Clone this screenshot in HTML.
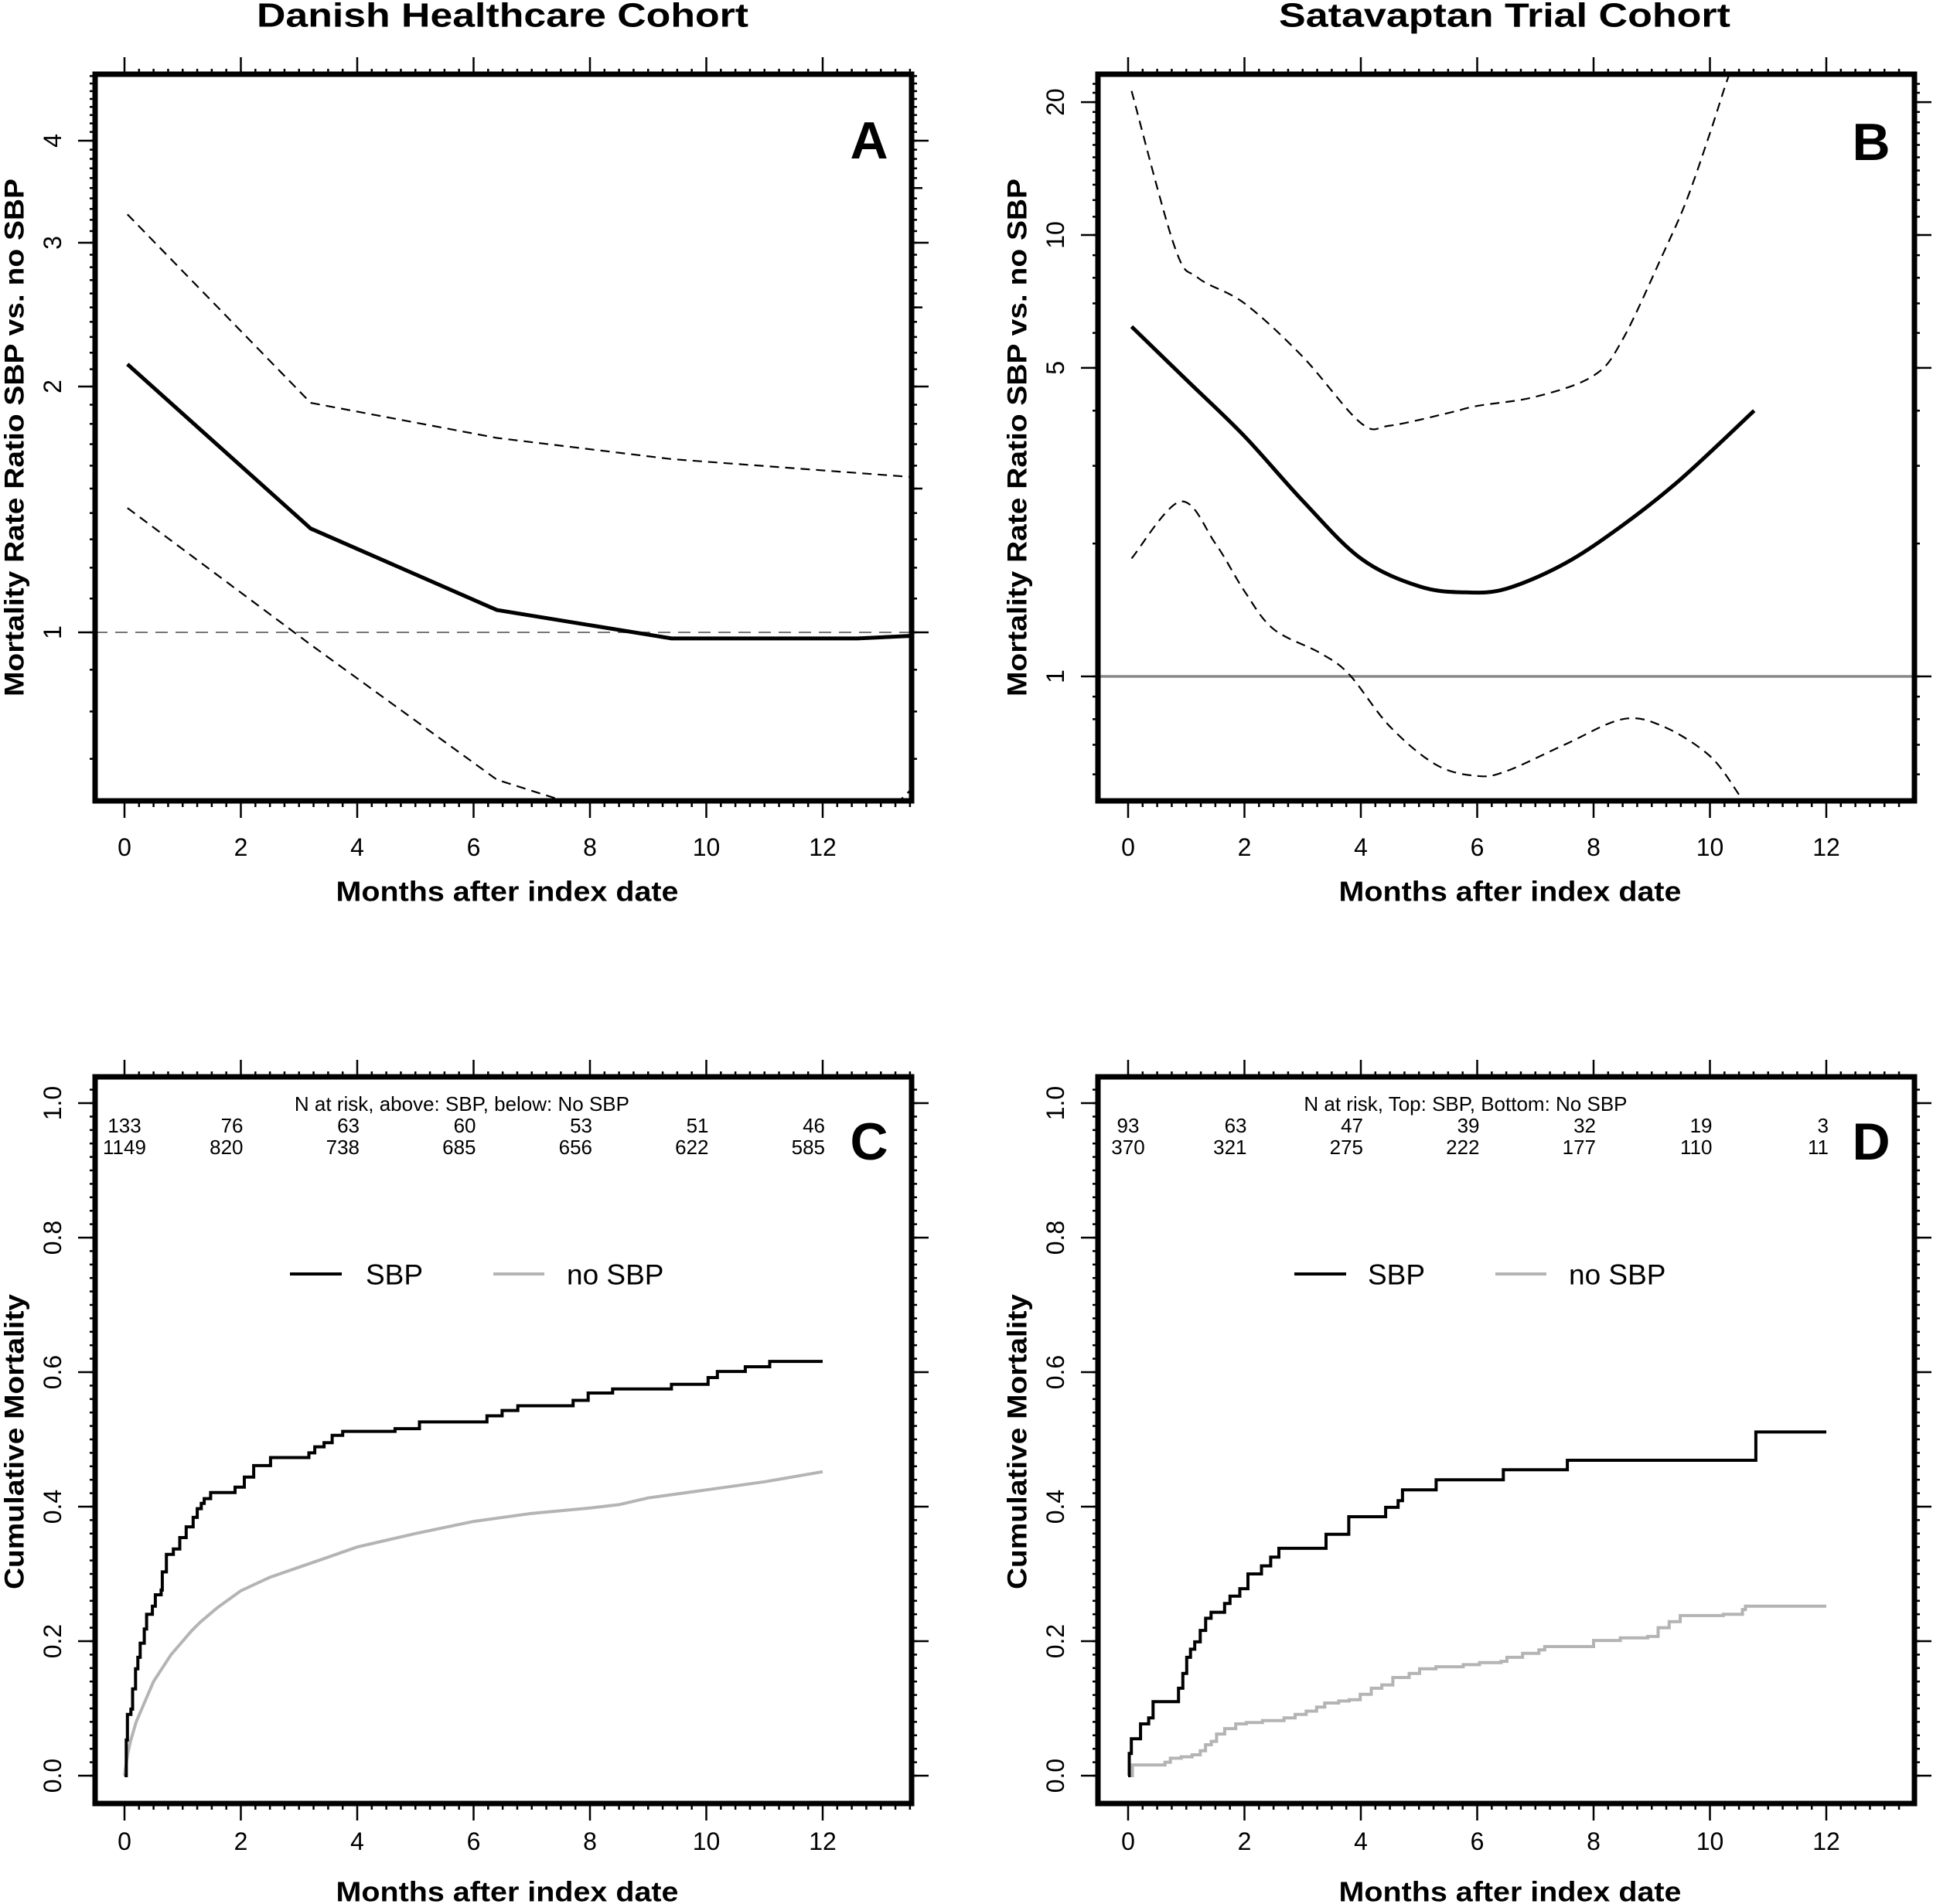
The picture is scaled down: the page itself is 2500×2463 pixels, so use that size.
<!DOCTYPE html>
<html><head><meta charset="utf-8"><style>
html,body{margin:0;padding:0;background:#fff;}
svg{display:block;font-family:"Liberation Sans",Arial,sans-serif;}
</style></head><body>
<svg id="fig" width="2500" height="2463" viewBox="0 0 2500 2463" xmlns="http://www.w3.org/2000/svg"></svg>
<script>
// ---------- DATA ----------
// Panel A (Danish, rate ratio, log scale)
const aMonths = [0.05, 3.2, 6.4, 9.4, 12.6, 13.5];
const aRatio = [2.13, 1.34, 1.065, 0.983, 0.983, 0.99];
const aUpperMonths = [0.05, 3.2, 6.4, 9.4, 13.5];
const aUpper = [3.25, 1.91, 1.73, 1.63, 1.55];
const aLowerMonths = [0.05, 3.2, 6.4, 7.6, 10, 13.2, 13.5];
const aLower = [1.42, 0.966, 0.66, 0.62, 0.58, 0.61, 0.64];
const aTickLabels = [1, 2, 3, 4];
// Panel B (Satavaptan, rate ratio, log scale)
const bMonths = [0.06, 1, 2, 3, 4, 5, 5.8, 6.5, 7.5, 8.5, 9.5, 10.76];
const bRatio = [6.2, 4.7, 3.5, 2.5, 1.85, 1.6, 1.55, 1.58, 1.8, 2.2, 2.8, 4.0];
const bUpperMonths = [0.06, 0.8, 1.2, 2, 3, 4, 4.5, 5.5, 6, 7, 8, 8.5, 9.2, 9.6, 10, 10.3, 10.5];
const bUpper = [21.2, 9.4, 8.0, 7.0, 5.3, 3.75, 3.7, 3.95, 4.1, 4.3, 4.8, 5.8, 9.1, 12, 17, 22.5, 26];
const bLowerMonths = [0.06, 0.9, 1.5, 2, 2.5, 3.3, 3.8, 4.5, 5.3, 6, 6.5, 7.5, 8.5, 9.2, 10, 10.5];
const bLower = [1.85, 2.49, 2.0, 1.56, 1.28, 1.13, 1.01, 0.77, 0.63, 0.595, 0.61, 0.7, 0.8, 0.77, 0.66, 0.54];
const bTickLabels = [1, 5, 10, 20];
// Panel C (Danish cumulative mortality, step)
const cSbpTimes = [0,0.03,0.05,0.11,0.14,0.19,0.23,0.27,0.34,0.38,0.48,0.53,0.63,0.65,0.72,0.84,0.95,1.06,1.18,1.25,1.32,1.37,1.48,1.90,2.06,2.22,2.51,3.17,3.27,3.43,3.57,3.75,4.65,5.07,6.23,6.49,6.76,7.71,7.97,8.39,9.40,10.03,10.19,10.67,11.09,12];
const cSbpCum = [0,0.053,0.091,0.099,0.129,0.159,0.176,0.197,0.218,0.240,0.252,0.269,0.276,0.303,0.329,0.337,0.354,0.370,0.384,0.397,0.405,0.412,0.421,0.429,0.444,0.461,0.473,0.480,0.489,0.495,0.506,0.512,0.516,0.526,0.535,0.543,0.550,0.558,0.569,0.575,0.582,0.592,0.601,0.608,0.616,0.616];
const cNoTimes = [0,0.05,0.1,0.2,0.3,0.4,0.5,0.65,0.8,1,1.15,1.3,1.6,2,2.5,3,3.5,4,4.5,5,6,7,8,8.5,9,10,11,12];
const cNoCum = [0,0.03,0.05,0.08,0.1,0.12,0.14,0.16,0.18,0.2,0.215,0.228,0.25,0.275,0.295,0.31,0.325,0.34,0.35,0.36,0.378,0.39,0.398,0.403,0.413,0.425,0.437,0.452];
const cRiskTop = ["133","76","63","60","53","51","46"];
const cRiskBottom = ["1149","820","738","685","656","622","585"];
// Panel D (Satavaptan cumulative mortality, step)
const dSbpTimes = [0,0.02,0.056,0.214,0.354,0.429,0.867,0.941,1.007,1.072,1.146,1.240,1.333,1.426,1.659,1.752,1.920,2.060,2.293,2.451,2.591,3.402,3.793,4.427,4.641,4.716,5.294,6.449,7.549,10.79,12];
const dSbpCum = [0,0.033,0.055,0.077,0.086,0.110,0.130,0.152,0.176,0.188,0.199,0.216,0.234,0.243,0.256,0.267,0.278,0.300,0.312,0.325,0.338,0.359,0.385,0.399,0.409,0.425,0.440,0.455,0.469,0.511,0.511];
const dNoTimes = [0,0.075,0.634,0.727,0.913,1.10,1.24,1.33,1.43,1.52,1.66,1.85,2.03,2.31,2.68,2.87,3.06,3.24,3.38,3.62,3.80,3.99,4.18,4.36,4.55,4.83,5.01,5.29,5.76,6.04,6.41,6.51,6.78,7.06,7.16,8.00,8.46,8.93,9.11,9.30,9.49,10.23,10.56,10.61,12];
const dNoCum = [0,0.016,0.020,0.026,0.028,0.031,0.037,0.046,0.051,0.062,0.070,0.077,0.079,0.082,0.086,0.091,0.096,0.102,0.108,0.111,0.113,0.121,0.130,0.135,0.146,0.152,0.159,0.162,0.165,0.168,0.170,0.176,0.182,0.187,0.192,0.201,0.205,0.207,0.220,0.229,0.238,0.240,0.247,0.252,0.252];
const dRiskTop = ["93","63","47","39","32","19","3"];
const dRiskBottom = ["370","321","275","222","177","110","11"];
const monthTicks = [0, 2, 4, 6, 8, 10, 12];
const cumTicks = [0, 0.2, 0.4, 0.6, 0.8, 1.0];

// ---------- HELPERS ----------
const NS = "http://www.w3.org/2000/svg";
const svg = document.getElementById('fig');
function mk(tag, attrs, parent) {
  const e = document.createElementNS(NS, tag);
  for (const k in attrs) e.setAttribute(k, attrs[k]);
  (parent || svg).appendChild(e);
  return e;
}
function txt(s, x, y, size, weight, anchor, parent, rot, tl) {
  const t = mk('text', {x: x, y: y, 'font-size': size, 'font-weight': weight || 'normal', 'text-anchor': anchor || 'middle', 'dominant-baseline': 'central', fill: '#000'}, parent);
  if (rot) t.setAttribute('transform', 'rotate(' + rot + ' ' + x + ' ' + y + ')');
  if (tl) { t.setAttribute('textLength', tl); t.setAttribute('lengthAdjust', 'spacingAndGlyphs'); }
  t.textContent = s;
  return t;
}
function line(x1, y1, x2, y2, w, parent, color) {
  return mk('line', {x1: x1, y1: y1, x2: x2, y2: y2, stroke: color || '#000', 'stroke-width': w}, parent);
}
function poly(xs, ys, fx, fy, attrs, parent) {
  const pts = xs.map((v, i) => fx(v).toFixed(1) + ',' + fy(ys[i]).toFixed(1)).join(' ');
  return mk('polyline', Object.assign({points: pts, fill: 'none'}, attrs), parent);
}
function smooth(xs, ys, fx, fy, attrs, parent) {
  const P = xs.map((v, i) => [fx(v), fy(ys[i])]);
  let d = 'M' + P[0][0].toFixed(1) + ',' + P[0][1].toFixed(1);
  for (let i = 0; i < P.length - 1; i++) {
    const p0 = P[Math.max(0, i - 1)], p1 = P[i], p2 = P[i + 1], p3 = P[Math.min(P.length - 1, i + 2)];
    const c1x = p1[0] + (p2[0] - p0[0]) / 6, c1y = p1[1] + (p2[1] - p0[1]) / 6;
    const c2x = p2[0] - (p3[0] - p1[0]) / 6, c2y = p2[1] - (p3[1] - p1[1]) / 6;
    d += ' C' + c1x.toFixed(1) + ',' + c1y.toFixed(1) + ' ' + c2x.toFixed(1) + ',' + c2y.toFixed(1) + ' ' + p2[0].toFixed(1) + ',' + p2[1].toFixed(1);
  }
  return mk('path', Object.assign({d: d, fill: 'none'}, attrs), parent);
}
function steps(xs, ys, fx, fy, attrs, parent) {
  let d = 'M' + fx(xs[0]).toFixed(1) + ',' + fy(ys[0]).toFixed(1);
  for (let i = 1; i < xs.length; i++) {
    d += ' H' + fx(xs[i]).toFixed(1) + ' V' + fy(ys[i]).toFixed(1);
  }
  return mk('path', Object.assign({d: d, fill: 'none'}, attrs), parent);
}

// ---------- PANEL FRAME ----------
function panel(cfg) {
  const g = mk('g', {});
  
  
  const L = cfg.left, R = cfg.left + 1056, T = cfg.top, B = cfg.top + 940;
  const fx = m => cfg.x0 + 75.25 * m;
  const cp = mk('clipPath', {id: 'clip-' + cfg.name}, g);
  mk('rect', {x: L, y: T, width: R - L, height: B - T}, cp);
  const plot = mk('g', {'clip-path': 'url(#clip-' + cfg.name + ')'}, g);
  
  
  const xax = mk('g', {}, g);
  
  
  for (let q = 0; q <= 54; q++) {
    const m = q * 0.25; const X = fx(m);
    if (X > R - 2) break;
    const major = q % 8 === 0 && m <= 12;
    line(X, B, X, B + (major ? 22 : 8), 2.5, xax);
    line(X, T, X, T - (major ? 22 : 7), 2.5, xax);
  }
  monthTicks.forEach(m => {
    const t = txt(String(m), fx(m), cfg.tickLabelY, 32, 'normal', 'middle', xax);
    
    
  });
  const xt = txt('Months after index date', (L + R) / 2 + 5, cfg.xTitleY, 36, 'bold', 'middle', g, 0, 443);
  
  
  const yax = mk('g', {}, g);
  
  
  cfg.minor.forEach(v => { const Y = cfg.fy(v); if (Y > T + 2 && Y < B - 2) { line(L, Y, L - 7, Y, 2.5, yax); line(R, Y, R + 7, Y, 2.5, yax); } });
  (cfg.mid || []).forEach(v => { const Y = cfg.fy(v); line(R, Y, R + 14, Y, 2.5, yax); });
  cfg.major.forEach(v => { const Y = cfg.fy(v); line(L, Y, L - 22, Y, 2.5, yax); line(R, Y, R + 22, Y, 2.5, yax); });
  cfg.labels.forEach(v => {
    const t = txt(cfg.fmt(v), L - 55, cfg.fy(v), 32, 'normal', 'middle', yax, -90);
    
    
  });
  const yx = cfg.yTitleX;
  const yt = txt(cfg.yTitle, yx, cfg.yTitleC, 35, 'bold', 'middle', g, -90, cfg.yTitleLen);
  
  
  const lt = txt(cfg.letter, cfg.letterX, cfg.letterY, 68, 'bold', 'middle', g);
  
  
  const box = mk('rect', {x: L, y: T, width: R - L, height: B - T, fill: 'none', stroke: '#000', 'stroke-width': 7});
  
  
  g.appendChild(box);
  return {g: g, plot: plot, fx: fx, fy: cfg.fy, L: L, R: R, T: T, B: B};
}

const t1 = txt('Danish Healthcare Cohort', 650, 20, 44, 'bold', 'middle', svg, 0, 636);


const t2 = txt('Satavaptan Trial Cohort', 1946, 20, 44, 'bold', 'middle', svg, 0, 584);



// ---------- PANEL A ----------
const fyA = v => 818 - 318 * Math.log2(v);
const aMinor = []; for (let v = 0.6; v <= 4.85; v += 0.1) aMinor.push(+v.toFixed(2));
const pA = panel({name: 'panel-a', left: 123, top: 96, x0: 161, fy: fyA, minor: aMinor, mid: [1.5, 2.5, 3.5], major: aTickLabels, labels: aTickLabels, fmt: v => String(v),
  tickLabelY: 1096, xTitleY: 1153, yTitle: 'Mortality Rate Ratio SBP vs. no SBP', yTitleX: 19, yTitleC: 566, yTitleLen: 670, letter: 'A', letterX: 1124, letterY: 182});
let e;
e = line(pA.L, fyA(1), pA.R, fyA(1), 2, pA.plot, '#777'); e.setAttribute('stroke-dasharray', '16 10');
 
e = poly(aUpperMonths, aUpper, pA.fx, fyA, {stroke: '#000', 'stroke-width': 2.2, 'stroke-dasharray': '12 8'}, pA.plot);
 
e = poly(aLowerMonths, aLower, pA.fx, fyA, {stroke: '#000', 'stroke-width': 2.2, 'stroke-dasharray': '12 8'}, pA.plot);
 
e = poly(aMonths, aRatio, pA.fx, fyA, {stroke: '#000', 'stroke-width': 5}, pA.plot);
 

// ---------- PANEL B ----------
const fyB = v => 875 - 571 * Math.log10(v);
const bMinor = []; for (let v = 1; v <= 23; v++) bMinor.push(v);
[0.6, 0.7, 0.8, 0.9].forEach(v => bMinor.push(v));
const pB = panel({name: 'panel-b', left: 1420, top: 96, x0: 1459, fy: fyB, minor: bMinor, major: bTickLabels, labels: bTickLabels, fmt: v => String(v),
  tickLabelY: 1096, xTitleY: 1153, yTitle: 'Mortality Rate Ratio SBP vs. no SBP', yTitleX: 1316, yTitleC: 566, yTitleLen: 670, letter: 'B', letterX: 2420, letterY: 184});
e = line(pB.L, fyB(1), pB.R, fyB(1), 3.5, pB.plot, '#888');
 
e = smooth(bUpperMonths, bUpper, pB.fx, fyB, {stroke: '#000', 'stroke-width': 2.2, 'stroke-dasharray': '12 8'}, pB.plot);
 
e = smooth(bLowerMonths, bLower, pB.fx, fyB, {stroke: '#000', 'stroke-width': 2.2, 'stroke-dasharray': '12 8'}, pB.plot);
 
e = smooth(bMonths, bRatio, pB.fx, fyB, {stroke: '#000', 'stroke-width': 5}, pB.plot);
 

// ---------- PANEL C / D ----------
const fyC = v => 2297 - 870 * v;
const cMinor = []; for (let i = 0; i <= 51; i++) cMinor.push(+(i * 0.02).toFixed(2));
function cumPanel(name, left, x0, letter, letterX, riskTitle, top, bottom, sbpT, sbpV, noT, noV, leg, noSmooth) {
  const p = panel({name: name, left: left, top: 1393, x0: x0, fy: fyC, minor: cMinor, major: cumTicks, labels: cumTicks, fmt: v => v.toFixed(1),
    tickLabelY: 2382, xTitleY: 2447, yTitle: 'Cumulative Mortality', yTitleX: left === 123 ? 19 : 1316, yTitleC: 1865, yTitleLen: 382, letter: letter, letterX: letterX, letterY: 1477});
  const rk = mk('g', {}, p.g);
  
  
  txt(riskTitle, p.fx(5.8), 1428, 26, 'normal', 'middle', rk);
  monthTicks.forEach((m, i) => {
    const anchor = i === 0 ? 'middle' : 'end';
    const xx = i === 0 ? p.fx(m) : p.fx(m) + 3;
    txt(top[i], xx, 1456, 26, 'normal', anchor, rk);
    txt(bottom[i], xx, 1484, 26, 'normal', anchor, rk);
  });
  let s = noSmooth ? poly(noT, noV, p.fx, fyC, {stroke: '#b4b4b4', 'stroke-width': 4}, p.plot)
                   : steps(noT, noV, p.fx, fyC, {stroke: '#b4b4b4', 'stroke-width': 4}, p.plot);
   
  s = steps(sbpT, sbpV, p.fx, fyC, {stroke: '#000', 'stroke-width': 4}, p.plot);
   
  const lg = mk('g', {}, p.g);
  
  
  const e1 = mk('g', {}, lg);
  
  
  line(leg[0], 1648, leg[0] + 67, 1648, 4, e1);
  txt('SBP', leg[1], 1649, 37, 'normal', 'start', e1);
  const e2 = mk('g', {}, lg);
  
  
  line(leg[2], 1648, leg[2] + 66, 1648, 4, e2, '#b4b4b4');
  txt('no SBP', leg[3], 1649, 37, 'normal', 'start', e2);
  return p;
}
cumPanel('panel-c', 123, 161, 'C', 1124, 'N at risk, above: SBP, below: No SBP', cRiskTop, cRiskBottom, cSbpTimes, cSbpCum, cNoTimes, cNoCum, [375, 473, 638, 733], true);
cumPanel('panel-d', 1420, 1459, 'D', 2420, 'N at risk, Top: SBP, Bottom: No SBP', dRiskTop, dRiskBottom, dSbpTimes, dSbpCum, dNoTimes, dNoCum, [1674, 1769, 1934, 2029], false);
</script>
</body></html>
